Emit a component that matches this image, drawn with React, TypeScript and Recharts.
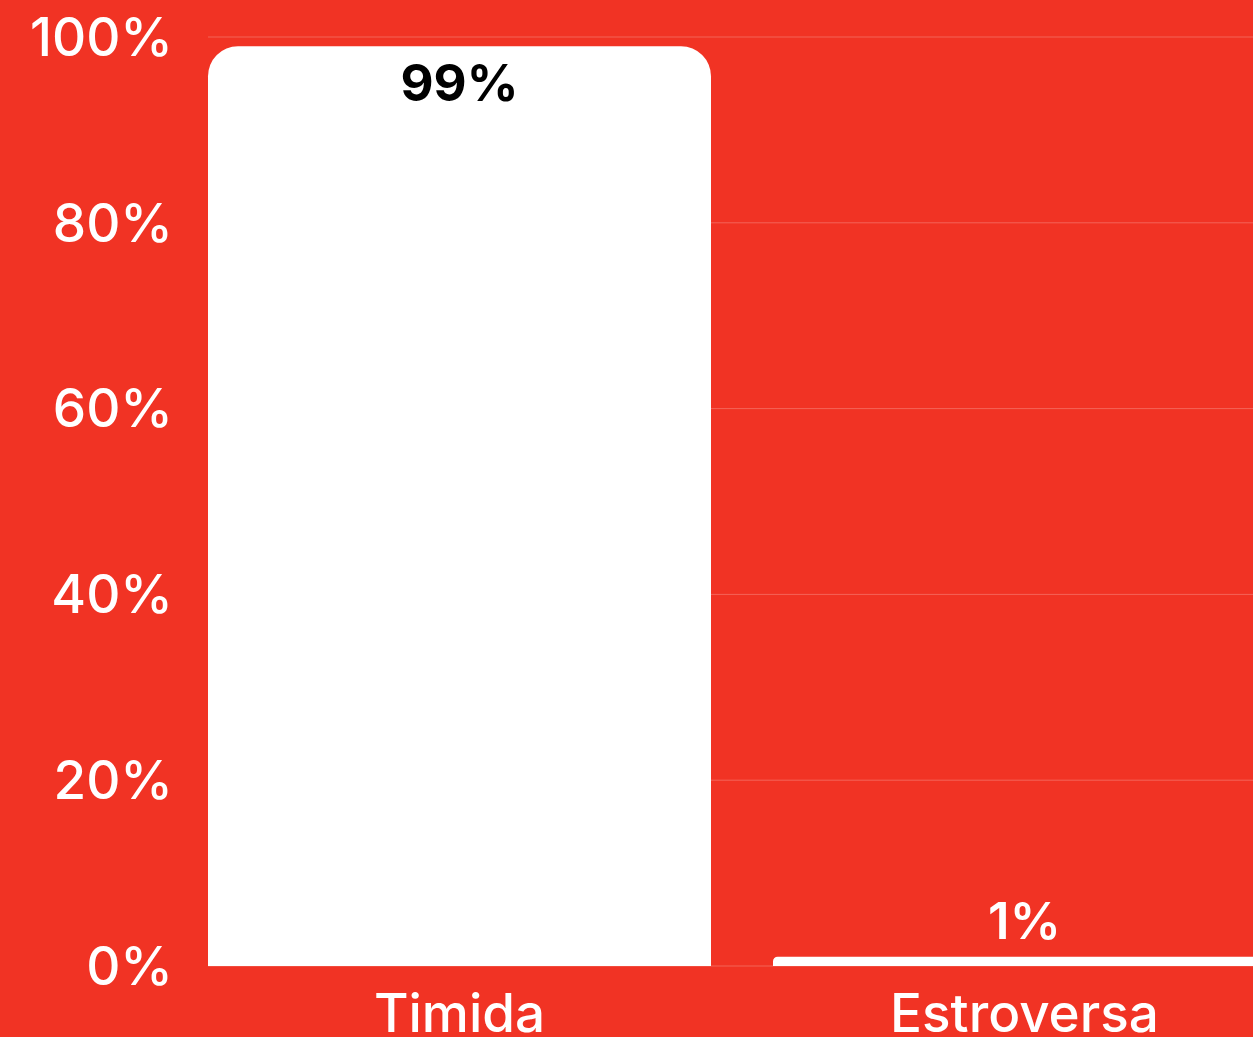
import { Bar, BarChart, CartesianGrid, LabelList, XAxis, YAxis } from 'recharts';

// Timida vs Estroversa — white bars on a flat red card.

const RED = '#F13324';
const FONT = 'Inter, "Noto Sans", sans-serif';

const CATEGORIES = ['Timida', 'Estroversa'];
const VALUES = [99, 1];
const Y_TICKS = [0, 20, 40, 60, 80, 100];

const data = CATEGORIES.map((name, i) => ({ name, value: VALUES[i] }));

// Big bars get their label inside (black), short ones above (white).
function BarValue(props: any) {
  const { x, y, width, height, value } = props;
  const inside = Number(height) > 80;
  const cx = Number(x) + Number(width) / 2;
  return (
    <text
      x={cx}
      y={inside ? Number(y) + 18 : Number(y) - 18}
      dy={inside ? '0.71em' : 0}
      textAnchor="middle"
      fill={inside ? '#000000' : '#FFFFFF'}
      style={{ fontFamily: FONT, fontSize: 51, fontWeight: inside ? 700 : 600 }}
    >
      {`${value}%`}
    </text>
  );
}

export default function App() {
  return (
    <div
      style={{
        position: 'absolute',
        left: 0,
        top: 0,
        width: 1253,
        height: 1037,
        overflow: 'hidden',
        background: RED,
      }}
    >
      <BarChart
        width={1320}
        height={1060}
        data={data}
        margin={{ top: 37, right: 13, left: 0, bottom: 0 }}
        barSize={503}
      >
        <CartesianGrid vertical={false} stroke="rgba(255,255,255,0.24)" strokeWidth={1} />
        <XAxis
          dataKey="name"
          height={94}
          padding={{ left: -31, right: 0 }}
          axisLine={false}
          tickLine={false}
          tickSize={0}
          tickMargin={28}
          tick={{ fill: '#FFFFFF', fontSize: 53, fontFamily: FONT, fontWeight: 500 }}
          interval={0}
        />
        <YAxis
          width={208}
          domain={[0, 100]}
          ticks={Y_TICKS}
          axisLine={false}
          tickLine={false}
          tickSize={0}
          tickMargin={35}
          tickFormatter={(v) => `${v}%`}
          tick={{ fill: '#FFFFFF', fontSize: 53, fontFamily: FONT, fontWeight: 500 }}
        />
        <Bar dataKey="value" fill="#FFFFFF" radius={[30, 30, 0, 0]} isAnimationActive={false}>
          <LabelList dataKey="value" content={BarValue} />
        </Bar>
      </BarChart>
    </div>
  );
}
